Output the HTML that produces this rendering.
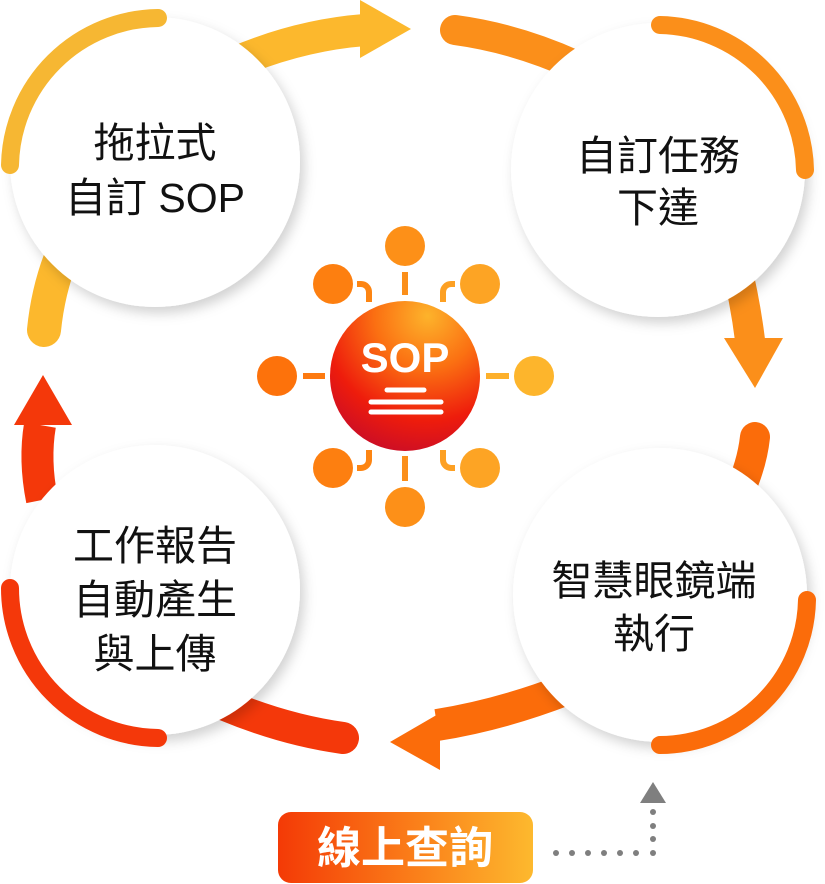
<!DOCTYPE html>
<html><head><meta charset="utf-8"><style>
html,body{margin:0;padding:0;background:#fff;}
svg{display:block;}
text{font-family:"Liberation Sans","Noto Sans CJK TC",sans-serif;}
</style></head><body>
<svg width="825" height="884" viewBox="0 0 825 884" xmlns="http://www.w3.org/2000/svg">
<defs>
<filter id="sh" x="-20%" y="-20%" width="140%" height="140%">
<feDropShadow dx="4" dy="6" stdDeviation="6" flood-color="#000" flood-opacity="0.18"/>
</filter>
<linearGradient id="btn" x1="0" y1="0" x2="1" y2="0">
<stop offset="0" stop-color="#f43a06"/><stop offset="0.5" stop-color="#fa7a18"/><stop offset="1" stop-color="#fdb92e"/>
</linearGradient>
<radialGradient id="sop" cx="0.65" cy="0.1" r="1">
<stop offset="0" stop-color="#fdb32b"/><stop offset="0.35" stop-color="#fb7012"/><stop offset="0.7" stop-color="#ee1c0c"/><stop offset="1" stop-color="#c30a2c"/>
</radialGradient>
</defs>

<g fill="none" stroke-linecap="round">
<path d="M236,62 Q300,35 365,30" stroke="#fcb82d" stroke-width="32" stroke-linecap="butt"/>
<path d="M455,30 Q515,38 575,65" stroke="#fb8f1a" stroke-width="30"/>
<path d="M735,260 Q745,300 750,340" stroke="#fb8f1a" stroke-width="30" stroke-linecap="butt"/>
<path d="M755,437 Q752,465 738,495" stroke="#fb6c0a" stroke-width="30"/>
<path d="M565,690 Q500,715 437,725" stroke="#fb6c0a" stroke-width="32" stroke-linecap="butt"/>
<path d="M225,705 Q285,730 343,738" stroke="#f4380a" stroke-width="32"/>
<path d="M42,500 Q34,460 40,425" stroke="#f4380a" stroke-width="32" stroke-linecap="butt"/>
<path d="M44,330 Q48,290 62,255" stroke="#fcb82d" stroke-width="34"/>
</g>
<polygon points="360,0 411,29 360,58" fill="#fcb82d"/>
<polygon points="724,338 783,338 755,388" fill="#fb8f1a"/>
<polygon points="440,713 390,742 440,770" fill="#fb6c0a"/>
<polygon points="14,425 72,425 43,375" fill="#f4380a"/>

<g fill="#fff" filter="url(#sh)">
<circle cx="155" cy="162" r="145"/>
<circle cx="658" cy="170" r="147"/>
<circle cx="660" cy="595" r="147"/>
<circle cx="155" cy="590" r="145"/>
</g>

<!-- ring arcs on top -->
<g fill="none" stroke-linecap="round">
<path d="M10,165 A150,150 0 0 1 158,18" stroke="#f6b733" stroke-width="18"/>
<path d="M660,25 A148,148 0 0 1 805,170" stroke="#fb8f1a" stroke-width="18"/>
<path d="M807,600 A148,148 0 0 1 660,745" stroke="#fb6c0a" stroke-width="18"/>
<path d="M10,588 A150,150 0 0 0 158,738" stroke="#f4380a" stroke-width="18"/>
</g>

<g font-size="41" fill="#111" text-anchor="middle">
<text x="155" y="157">拖拉式</text>
<text x="155" y="212">自訂 SOP</text>
<text x="658" y="170">自訂任務</text>
<text x="658" y="222">下達</text>
<text x="654" y="595">智慧眼鏡端</text>
<text x="654" y="648">執行</text>
<text x="155" y="560">工作報告</text>
<text x="155" y="614">自動產生</text>
<text x="155" y="668">與上傳</text>
</g>

<g fill="none" stroke-width="6">
<line x1="405" y1="272" x2="405" y2="295" stroke="#fb8f1a"/>
<line x1="405" y1="456" x2="405" y2="481" stroke="#fb8f1a"/>
<line x1="303" y1="376" x2="325" y2="376" stroke="#fd7a10"/>
<line x1="486" y1="376" x2="509" y2="376" stroke="#fdb02b"/>
<path d="M357,284 h4 a8,8 0 0 1 8,8 v10" stroke="#fd8512"/>
<path d="M455,284 h-4 a8,8 0 0 0 -8,8 v10" stroke="#fda023"/>
<path d="M357,468 h4 a8,8 0 0 0 8,-8 v-10" stroke="#fd8512"/>
<path d="M455,468 h-4 a8,8 0 0 1 -8,-8 v-10" stroke="#fda023"/>
</g>
<g>
<circle cx="405" cy="246" r="20" fill="#fd9018"/>
<circle cx="405" cy="507" r="20" fill="#fd9018"/>
<circle cx="277" cy="376" r="20" fill="#fd720b"/>
<circle cx="534" cy="376" r="20" fill="#fdb52c"/>
<circle cx="333" cy="284" r="20" fill="#fd7f10"/>
<circle cx="480" cy="284" r="20" fill="#fda424"/>
<circle cx="333" cy="468" r="20" fill="#fd7f10"/>
<circle cx="480" cy="468" r="20" fill="#fda424"/>
</g>
<circle cx="405" cy="376" r="75" fill="url(#sop)"/>
<text x="405" y="372" font-size="42" font-weight="bold" fill="#fff" text-anchor="middle">SOP</text>
<g stroke="#fff" stroke-width="5" stroke-linecap="round">
<line x1="387" y1="390" x2="424" y2="390"/>
<line x1="371" y1="402" x2="441" y2="402"/>
<line x1="371" y1="412" x2="441" y2="412"/>
</g>

<rect x="278" y="812" width="255" height="71" rx="13" fill="url(#btn)"/>
<text x="405" y="863" font-size="44" font-weight="bold" fill="#fff" text-anchor="middle">線上查詢</text>
<g fill="#7f7f7f">
<circle cx="556" cy="853" r="3"/><circle cx="572" cy="853" r="3"/><circle cx="588" cy="853" r="3"/>
<circle cx="604" cy="853" r="3"/><circle cx="620" cy="853" r="3"/><circle cx="636" cy="853" r="3"/>
<circle cx="653" cy="853" r="3"/><circle cx="653" cy="839" r="3"/><circle cx="653" cy="826" r="3"/>
<circle cx="653" cy="812" r="3"/>
<polygon points="640,803 666,803 653,782"/>
</g>
</svg>
</body></html>
